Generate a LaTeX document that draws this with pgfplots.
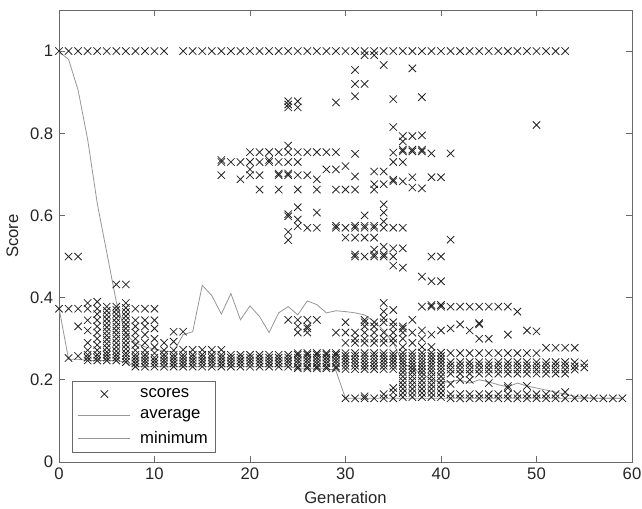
\documentclass[border=0pt]{standalone}
\usepackage{fontspec}
\setmainfont{Liberation Sans}
\usepackage{pgfplots}
\pgfplotsset{compat=1.18}
\definecolor{axgray}{RGB}{105,105,105}
\definecolor{lngray}{RGB}{150,150,150}
\definecolor{mk}{RGB}{35,35,35}

\begin{document}
\fontsize{12.5}{15}\selectfont
\begin{tikzpicture}
\begin{axis}[
  name=ax,
  scale only axis, width=429.75pt, height=339pt,
  xmin=0, xmax=60, ymin=0, ymax=1.1,
  xtick={0,10,20,30,40,50,60}, xticklabels={0,10,20,30,40,50,60},
  ytick={0,0.2,0.4,0.6,0.8,1}, yticklabels={0,0.2,0.4,0.6,0.8,1},
  major tick length=4.5pt,
  tick style={axgray, line width=0.6pt},
  axis line style={axgray, line width=0.6pt},
  tick label style={text=black!85},
  xlabel={Generation}, ylabel={Score},
  every axis x label/.style={at={(rel axis cs:0.5,0)}, yshift=-27pt, anchor=center, text=black!85},
  every axis y label/.style={at={(rel axis cs:0,0.5)}, xshift=-35pt, rotate=90, anchor=center, text=black!85},
  legend cell align=left,
  legend style={at={(0.0227,0.02)}, anchor=south west, draw=axgray, line width=0.6pt,
    fill=white, row sep=3.5pt, column sep=5pt, inner xsep=4pt, inner ysep=3pt},
  legend image code/.code={\draw[mark repeat=2,mark phase=2,#1] plot coordinates {(0cm,0cm) (0.69cm,0cm) (1.38cm,0cm)};},
]
% scores: one line per generation
\addplot[only marks, mark=x, mark size=3.9pt, mark options={mk, line width=0.6pt}] coordinates {
(0,1)(0,0.373)
(1,1)(1,0.5)(1,0.373)(1,0.253)
(2,1)(2,0.5)(2,0.373)(2,0.33)(2,0.258)
(3,1)(3,0.387)(3,0.373)(3,0.345)(3,0.32)(3,0.29)(3,0.272)(3,0.261)(3,0.254)(3,0.247)
(4,1)(4,0.39)(4,0.373)(4,0.36)(4,0.345)(4,0.33)(4,0.315)(4,0.3)(4,0.285)(4,0.272)(4,0.261)(4,0.254)(4,0.247)
(5,1)(5,0.378)(5,0.368)(5,0.358)(5,0.348)(5,0.338)(5,0.328)(5,0.318)(5,0.308)(5,0.298)(5,0.288)(5,0.278)(5,0.268)(5,0.261)(5,0.254)(5,0.247)
(6,1)(6,0.432)(6,0.378)(6,0.37)(6,0.36)(6,0.35)(6,0.34)(6,0.33)(6,0.32)(6,0.31)(6,0.3)(6,0.29)(6,0.28)(6,0.27)(6,0.261)(6,0.254)(6,0.247)
(7,1)(7,0.432)(7,0.387)(7,0.375)(7,0.365)(7,0.355)(7,0.345)(7,0.335)(7,0.325)(7,0.315)(7,0.305)(7,0.295)(7,0.285)(7,0.275)(7,0.265)(7,0.258)(7,0.25)(7,0.243)
(8,1)(8,0.373)(8,0.345)(8,0.33)(8,0.315)(8,0.3)(8,0.285)(8,0.272)(8,0.261)(8,0.254)(8,0.247)(8,0.24)(8,0.232)
(9,1)(9,0.373)(9,0.345)(9,0.33)(9,0.31)(9,0.29)(9,0.272)(9,0.261)(9,0.254)(9,0.247)(9,0.24)(9,0.232)
(10,1)(10,0.373)(10,0.345)(10,0.325)(10,0.3)(10,0.28)(10,0.265)(10,0.254)(10,0.247)(10,0.24)(10,0.232)
(11,1)(11,0.29)(11,0.272)(11,0.261)(11,0.254)(11,0.247)(11,0.24)(11,0.232)
(12,0.317)(12,0.293)(12,0.272)(12,0.261)(12,0.254)(12,0.247)(12,0.24)(12,0.232)
(13,1)(13,0.317)(13,0.273)(13,0.261)(13,0.254)(13,0.247)(13,0.24)(13,0.232)
(14,1)(14,0.273)(14,0.261)(14,0.254)(14,0.247)(14,0.24)(14,0.232)
(15,1)(15,0.273)(15,0.261)(15,0.254)(15,0.247)(15,0.24)(15,0.232)
(16,1)(16,0.273)(16,0.261)(16,0.254)(16,0.247)(16,0.24)(16,0.232)
(17,1)(17,0.735)(17,0.73)(17,0.698)(17,0.273)(17,0.261)(17,0.254)(17,0.247)(17,0.24)(17,0.232)
(18,1)(18,0.73)(18,0.261)(18,0.254)(18,0.247)(18,0.24)(18,0.232)
(19,1)(19,0.73)(19,0.688)(19,0.261)(19,0.254)(19,0.247)(19,0.24)(19,0.232)
(20,1)(20,0.754)(20,0.73)(20,0.712)(20,0.698)(20,0.261)(20,0.254)(20,0.247)(20,0.24)(20,0.232)
(21,1)(21,0.754)(21,0.73)(21,0.698)(21,0.663)(21,0.261)(21,0.254)(21,0.247)(21,0.24)(21,0.232)
(22,1)(22,0.754)(22,0.735)(22,0.73)(22,0.261)(22,0.254)(22,0.247)(22,0.24)(22,0.232)
(23,1)(23,0.754)(23,0.73)(23,0.702)(23,0.698)(23,0.663)(23,0.261)(23,0.254)(23,0.247)(23,0.24)(23,0.232)
(24,1)(24,0.878)(24,0.87)(24,0.863)(24,0.77)(24,0.754)(24,0.73)(24,0.702)(24,0.698)(24,0.603)(24,0.598)(24,0.56)(24,0.54)(24,0.346)(24,0.261)(24,0.254)(24,0.247)(24,0.24)(24,0.232)
(25,1)(25,0.878)(25,0.863)(25,0.754)(25,0.73)(25,0.698)(25,0.663)(25,0.62)(25,0.59)(25,0.574)(25,0.346)(25,0.33)(25,0.315)(25,0.265)(25,0.261)(25,0.254)(25,0.247)(25,0.24)(25,0.232)(25,0.228)
(26,1)(26,0.754)(26,0.698)(26,0.57)(26,0.346)(26,0.33)(26,0.325)(26,0.315)(26,0.265)(26,0.261)(26,0.254)(26,0.247)(26,0.24)(26,0.232)(26,0.228)
(27,1)(27,0.754)(27,0.688)(27,0.663)(27,0.607)(27,0.57)(27,0.346)(27,0.265)(27,0.261)(27,0.254)(27,0.247)(27,0.24)(27,0.232)(27,0.228)
(28,1)(28,0.754)(28,0.712)(28,0.265)(28,0.261)(28,0.254)(28,0.247)(28,0.24)(28,0.232)(28,0.228)
(29,1)(29,0.875)(29,0.754)(29,0.712)(29,0.663)(29,0.575)(29,0.57)(29,0.315)(29,0.265)(29,0.261)(29,0.254)(29,0.247)(29,0.24)(29,0.232)(29,0.228)
(30,1)(30,0.72)(30,0.663)(30,0.57)(30,0.546)(30,0.34)(30,0.315)(30,0.29)(30,0.265)(30,0.258)(30,0.25)(30,0.242)(30,0.234)(30,0.226)(30,0.155)
(31,1)(31,0.954)(31,0.92)(31,0.89)(31,0.75)(31,0.695)(31,0.663)(31,0.575)(31,0.57)(31,0.546)(31,0.505)(31,0.5)(31,0.315)(31,0.3)(31,0.29)(31,0.265)(31,0.258)(31,0.25)(31,0.242)(31,0.234)(31,0.226)(31,0.155)
(32,1)(32,0.99)(32,0.92)(32,0.6)(32,0.575)(32,0.57)(32,0.546)(32,0.5)(32,0.346)(32,0.34)(32,0.33)(32,0.315)(32,0.3)(32,0.29)(32,0.265)(32,0.258)(32,0.25)(32,0.242)(32,0.234)(32,0.226)(32,0.16)(32,0.155)
(33,1)(33,0.99)(33,0.707)(33,0.676)(33,0.663)(33,0.575)(33,0.57)(33,0.546)(33,0.517)(33,0.505)(33,0.5)(33,0.34)(33,0.33)(33,0.315)(33,0.3)(33,0.29)(33,0.265)(33,0.258)(33,0.25)(33,0.242)(33,0.234)(33,0.226)(33,0.155)
(34,1)(34,0.966)(34,0.707)(34,0.676)(34,0.627)(34,0.607)(34,0.585)(34,0.57)(34,0.524)(34,0.505)(34,0.5)(34,0.387)(34,0.366)(34,0.35)(34,0.34)(34,0.315)(34,0.3)(34,0.29)(34,0.265)(34,0.258)(34,0.25)(34,0.242)(34,0.234)(34,0.226)(34,0.165)(34,0.155)
(35,1)(35,0.883)(35,0.815)(35,0.753)(35,0.73)(35,0.687)(35,0.683)(35,0.57)(35,0.52)(35,0.5)(35,0.478)(35,0.37)(35,0.34)(35,0.33)(35,0.315)(35,0.3)(35,0.29)(35,0.265)(35,0.258)(35,0.25)(35,0.242)(35,0.234)(35,0.226)(35,0.18)(35,0.17)(35,0.155)
(36,1)(36,0.793)(36,0.78)(36,0.76)(36,0.756)(36,0.73)(36,0.683)(36,0.57)(36,0.52)(36,0.473)(36,0.33)(36,0.325)(36,0.315)(36,0.3)(36,0.28)(36,0.266)(36,0.258)(36,0.25)(36,0.242)(36,0.234)(36,0.226)(36,0.218)(36,0.208)(36,0.198)(36,0.188)(36,0.178)(36,0.168)(36,0.158)
(37,1)(37,0.958)(37,0.793)(37,0.76)(37,0.756)(37,0.693)(37,0.668)(37,0.346)(37,0.315)(37,0.29)(37,0.266)(37,0.258)(37,0.25)(37,0.242)(37,0.234)(37,0.226)(37,0.218)(37,0.208)(37,0.198)(37,0.188)(37,0.178)(37,0.168)(37,0.158)
(38,1)(38,0.888)(38,0.795)(38,0.76)(38,0.756)(38,0.666)(38,0.451)(38,0.378)(38,0.32)(38,0.3)(38,0.28)(38,0.266)(38,0.258)(38,0.25)(38,0.242)(38,0.234)(38,0.226)(38,0.218)(38,0.208)(38,0.198)(38,0.188)(38,0.178)(38,0.168)(38,0.158)
(39,1)(39,0.751)(39,0.693)(39,0.5)(39,0.44)(39,0.382)(39,0.378)(39,0.31)(39,0.28)(39,0.266)(39,0.258)(39,0.25)(39,0.242)(39,0.234)(39,0.226)(39,0.218)(39,0.208)(39,0.198)(39,0.188)(39,0.178)(39,0.168)(39,0.158)
(40,1)(40,0.693)(40,0.5)(40,0.44)(40,0.382)(40,0.378)(40,0.32)(40,0.266)(40,0.258)(40,0.25)(40,0.242)(40,0.234)(40,0.226)(40,0.218)(40,0.208)(40,0.198)(40,0.188)(40,0.178)(40,0.168)(40,0.158)
(41,1)(41,0.751)(41,0.541)(41,0.378)(41,0.325)(41,0.265)(41,0.243)(41,0.235)(41,0.225)(41,0.215)(41,0.19)(41,0.165)(41,0.155)
(42,1)(42,0.378)(42,0.335)(42,0.265)(42,0.243)(42,0.235)(42,0.225)(42,0.215)(42,0.2)(42,0.165)(42,0.155)
(43,1)(43,0.378)(43,0.32)(43,0.265)(43,0.243)(43,0.235)(43,0.225)(43,0.215)(43,0.2)(43,0.165)(43,0.155)
(44,1)(44,0.378)(44,0.338)(44,0.335)(44,0.3)(44,0.265)(44,0.243)(44,0.235)(44,0.225)(44,0.215)(44,0.165)(44,0.155)
(45,1)(45,0.378)(45,0.3)(45,0.265)(45,0.243)(45,0.235)(45,0.225)(45,0.215)(45,0.192)(45,0.165)(45,0.155)
(46,1)(46,0.378)(46,0.265)(46,0.243)(46,0.235)(46,0.225)(46,0.215)(46,0.165)(46,0.155)
(47,1)(47,0.378)(47,0.31)(47,0.265)(47,0.243)(47,0.235)(47,0.225)(47,0.215)(47,0.185)(47,0.18)(47,0.165)(47,0.155)
(48,1)(48,0.366)(48,0.265)(48,0.243)(48,0.235)(48,0.225)(48,0.215)(48,0.165)(48,0.155)
(49,1)(49,0.32)(49,0.265)(49,0.243)(49,0.235)(49,0.225)(49,0.215)(49,0.185)(49,0.165)(49,0.155)
(50,1)(50,0.82)(50,0.318)(50,0.265)(50,0.243)(50,0.235)(50,0.225)(50,0.215)(50,0.165)(50,0.155)
(51,1)(51,0.278)(51,0.243)(51,0.235)(51,0.225)(51,0.215)(51,0.165)(51,0.155)
(52,1)(52,0.278)(52,0.243)(52,0.235)(52,0.225)(52,0.215)(52,0.165)(52,0.155)
(53,1)(53,0.278)(53,0.243)(53,0.235)(53,0.225)(53,0.215)(53,0.17)(53,0.155)
(54,0.278)(54,0.243)(54,0.233)(54,0.225)(54,0.155)
(55,0.24)(55,0.23)(55,0.155)
(56,0.155)(57,0.155)(58,0.155)(59,0.155)
};
\addlegendentry{scores}
\addplot[lngray, line width=0.6pt] coordinates {
(0,0.998)(1,0.98)(2,0.905)(3,0.785)(4,0.63)(5,0.51)(6,0.39)(7,0.31)(8,0.29)(9,0.28)
(10,0.275)(11,0.27)(12,0.268)(13,0.31)(14,0.317)(15,0.43)(16,0.405)(17,0.36)(18,0.41)(19,0.346)
(20,0.38)(21,0.354)(22,0.315)(23,0.363)(24,0.378)(25,0.358)(26,0.392)(27,0.383)(28,0.363)(29,0.368)
(30,0.366)(31,0.363)(32,0.358)(33,0.342)(34,0.32)(35,0.29)(36,0.24)(37,0.228)(38,0.215)(39,0.2)
(40,0.195)(41,0.195)(42,0.2)(43,0.192)(44,0.2)(45,0.195)(46,0.188)(47,0.183)(48,0.192)(49,0.185)
(50,0.18)(51,0.175)(52,0.17)(53,0.165)(54,0.16)(55,0.157)(56,0.155)(57,0.155)(58,0.155)(59,0.155)
};
\addlegendentry{average}
\addplot[lngray, line width=0.6pt] coordinates {
(0,0.375)(1,0.25)(2,0.25)(3,0.247)(4,0.247)(5,0.247)(6,0.247)(7,0.243)(8,0.232)(9,0.232)
(10,0.232)(11,0.232)(12,0.232)(13,0.232)(14,0.232)(15,0.232)(16,0.232)(17,0.232)(18,0.232)(19,0.232)
(20,0.232)(21,0.232)(22,0.232)(23,0.232)(24,0.232)(25,0.228)(26,0.228)(27,0.228)(28,0.228)(29,0.222)
(30,0.155)(31,0.155)(32,0.155)(33,0.155)(34,0.155)(35,0.155)(36,0.155)(37,0.155)(38,0.155)(39,0.155)
(40,0.155)(41,0.155)(42,0.155)(43,0.155)(44,0.155)(45,0.155)(46,0.155)(47,0.155)(48,0.155)(49,0.155)
(50,0.155)(51,0.155)(52,0.155)(53,0.155)(54,0.155)(55,0.155)(56,0.155)(57,0.155)(58,0.155)(59,0.155)
};
\addlegendentry{minimum}
\end{axis}
\pgfresetboundingbox
\path ([xshift=-44.25pt,yshift=-35.25pt]ax.south west) rectangle ([xshift=7.5pt,yshift=7.5pt]ax.north east);
\end{tikzpicture}
\end{document}
